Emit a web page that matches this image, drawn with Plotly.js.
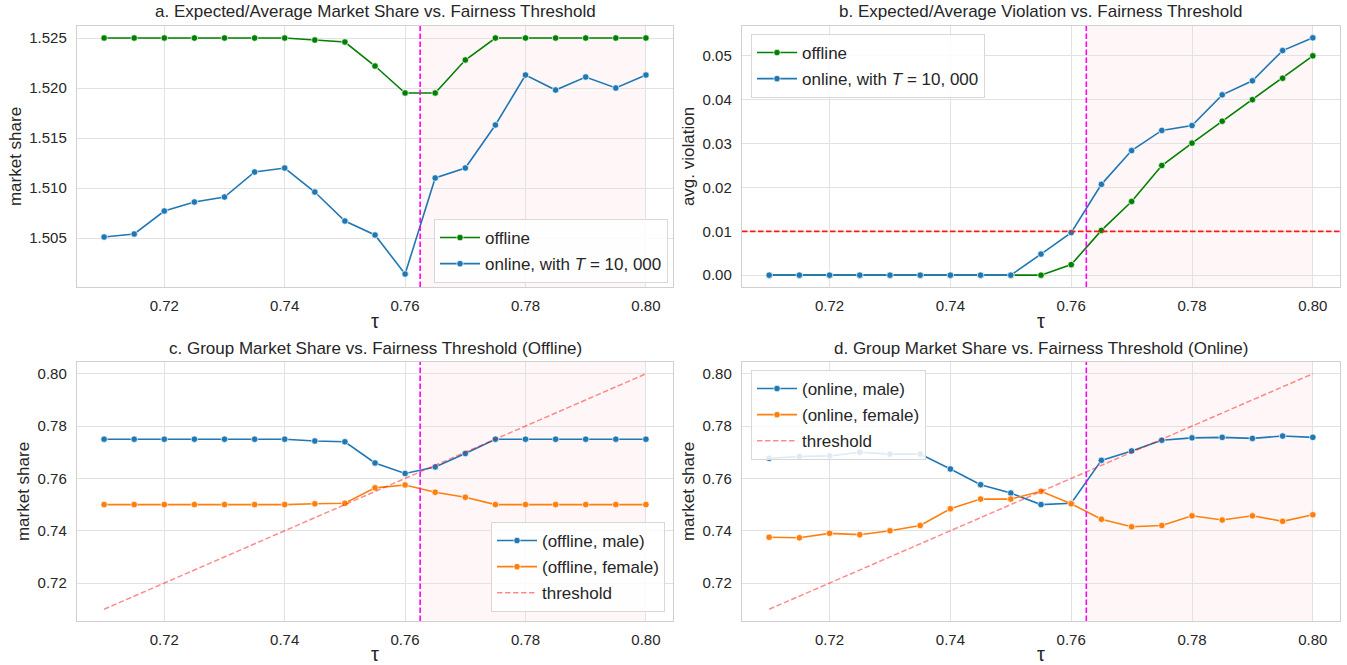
<!DOCTYPE html>
<html>
<head>
<meta charset="utf-8">
<script src="https://cdn.plot.ly/plotly-3.0.1.min.js"></script>
<style>html,body{margin:0;padding:0;background:#fff;}#chart{width:1347px;height:665px;}</style>
</head>
<body>
<div id="chart"></div>
<script>
// ---- data ----
const tau = [0.71,0.715,0.72,0.725,0.73,0.735,0.74,0.745,0.75,0.755,0.76,0.765,0.77,0.775,0.78,0.785,0.79,0.795,0.80];
const shareOffline = [1.525,1.525,1.525,1.525,1.525,1.525,1.525,1.5248,1.5246,1.5222,1.5195,1.5195,1.5228,1.525,1.525,1.525,1.525,1.525,1.525];
const shareOnline = [1.5051,1.5054,1.5077,1.5086,1.5091,1.5116,1.5120,1.5096,1.5067,1.5053,1.5014,1.5110,1.5120,1.5163,1.5213,1.5198,1.5211,1.5200,1.5213];
const violOffline = [0,0,0,0,0,0,0,0,0,0,0.0024,0.0102,0.0168,0.0250,0.0301,0.0351,0.0400,0.0449,0.0500];
const violOnline = [0,0,0,0,0,0,0,0,0,0.0048,0.0097,0.0207,0.0284,0.0330,0.0341,0.0411,0.0443,0.0512,0.0541];
const offMale = [0.775,0.775,0.775,0.775,0.775,0.775,0.775,0.7743,0.7740,0.7659,0.7619,0.7644,0.7695,0.775,0.775,0.775,0.775,0.775,0.775];
const offFemale = [0.75,0.75,0.75,0.75,0.75,0.75,0.75,0.7503,0.7505,0.7564,0.7575,0.7547,0.7528,0.75,0.75,0.75,0.75,0.75,0.75];
const onMale = [0.7677,0.7684,0.7686,0.7700,0.7693,0.7693,0.7636,0.7576,0.7544,0.7500,0.7505,0.7669,0.7705,0.7746,0.7755,0.7757,0.7753,0.7762,0.7757];
const onFemale = [0.7375,0.7373,0.7390,0.7385,0.7400,0.7420,0.7484,0.7521,0.7521,0.7551,0.7503,0.7444,0.7415,0.7420,0.7457,0.7441,0.7457,0.7436,0.7461];
const threshold = [0.71,0.715,0.72,0.725,0.73,0.735,0.74,0.745,0.75,0.755,0.76,0.765,0.77,0.775,0.78,0.785,0.79,0.795,0.80];
const xTicks = [0.72,0.74,0.76,0.78,0.80];
const cutoff = 0.7625;
const violLimit = 0.01;
const titles = ["a. Expected/Average Market Share vs. Fairness Threshold",
  "b. Expected/Average Violation vs. Fairness Threshold",
  "c. Group Market Share vs. Fairness Threshold (Offline)",
  "d. Group Market Share vs. Fairness Threshold (Online)"];

// ---- style ----
const FONT = "Liberation Sans, Arial, sans-serif";
const TXT = "#262626";
const BLUE = "#1f77b4", GREEN = "#008000", ORANGE = "#ff7f0e";
const THR = "rgba(255,0,0,0.45)";

let gid = 0;
function lm(name, x, y, color, xa, ya, legend) {
  gid++;
  return {x, y, name, type: "scatter", mode: "lines+markers", xaxis: xa, yaxis: ya, legend, legendgroup: "g" + gid,
    line: {color, width: 1.6},
    marker: {color, size: 6.5, line: {color: "#ffffff", width: 0.7}}};
}
function thr(xa, ya, legend) {
  gid++;
  return {x: tau, y: threshold, name: "threshold", type: "scatter", mode: "lines", xaxis: xa, yaxis: ya,
    legend, legendgroup: "g" + gid, line: {color: THR, width: 1.5, dash: "5.5px,2.5px"}};
}
const traces = [
  lm("offline", tau, shareOffline, GREEN, "x", "y", "legend"),
  lm("online, with <i>T</i> = 10, 000", tau, shareOnline, BLUE, "x", "y", "legend"),
  lm("offline", tau, violOffline, GREEN, "x2", "y2", "legend2"),
  lm("online, with <i>T</i> = 10, 000", tau, violOnline, BLUE, "x2", "y2", "legend2"),
  lm("(offline, male)", tau, offMale, BLUE, "x3", "y3", "legend3"),
  lm("(offline, female)", tau, offFemale, ORANGE, "x3", "y3", "legend3"),
  thr("x3", "y3", "legend3"),
  lm("(online, male)", tau, onMale, BLUE, "x4", "y4", "legend4"),
  lm("(online, female)", tau, onFemale, ORANGE, "x4", "y4", "legend4"),
  thr("x4", "y4", "legend4")
];

const W = 1347, H = 665;
const colDom = [[77/W, 673/W], [742/W, 1340/W]];
const rowDom = [[1-287/H, 1-26/H], [1-621/H, 1-362/H]];
const xRange = [0.7055, 0.8045];
const yRanges = [[1.5001, 1.5262], [-0.0027, 0.0568], [0.7055, 0.8045], [0.7055, 0.8045]];

function xax(anchor, dom) {
  return {domain: dom, anchor, range: xRange, tickvals: xTicks, tickformat: ".2f",
    showgrid: true, gridcolor: "#e2e2e2", gridwidth: 1, zeroline: false,
    showline: true, linecolor: "#d0d0d0", linewidth: 1.2, mirror: true,
    ticks: "outside", ticklen: 5, tickcolor: "rgba(0,0,0,0)",
    tickfont: {family: FONT, size: 15, color: TXT},
    title: {text: "τ", font: {family: FONT, size: 20, color: TXT}, standoff: 0}};
}
function yax(anchor, dom, range, dtick, fmt, label) {
  return {domain: dom, anchor, range, dtick, tick0: 0, tickformat: fmt,
    showgrid: true, gridcolor: "#e2e2e2", gridwidth: 1, zeroline: false,
    showline: true, linecolor: "#d0d0d0", linewidth: 1.2, mirror: true,
    ticks: "outside", ticklen: 6, tickcolor: "rgba(0,0,0,0)",
    tickfont: {family: FONT, size: 15, color: TXT},
    title: {text: label, font: {family: FONT, size: 17, color: TXT}, standoff: 3}};
}

const legBase = {bgcolor: "rgba(255,255,255,0.85)", bordercolor: "#d8d8d8", borderwidth: 1,
  font: {family: FONT, size: 17, color: TXT}, itemwidth: 40, tracegroupgap: 1};

const shapes = [];
const axPairs = [["x","y"],["x2","y2"],["x3","y3"],["x4","y4"]];
axPairs.forEach(([xa, ya], i) => {
  shapes.push({type: "rect", xref: xa, yref: ya, x0: cutoff, x1: 0.80, y0: yRanges[i][0], y1: yRanges[i][1],
    fillcolor: "rgba(255,0,0,0.03)", line: {width: 0}, layer: "below"});
  shapes.push({type: "line", xref: xa, yref: ya, x0: cutoff, x1: cutoff, y0: yRanges[i][0], y1: yRanges[i][1],
    line: {color: "#ff00ff", width: 1.6, dash: "5.5px,2.5px"}, layer: "above"});
});
shapes.push({type: "line", xref: "x2", yref: "y2", x0: xRange[0], x1: xRange[1], y0: violLimit, y1: violLimit,
  line: {color: "#ff1a1a", width: 1.8, dash: "5.5px,2.5px"}, layer: "above"});

const annotations = titles.map((t, i) => {
  const c = i % 2, r = Math.floor(i / 2);
  return {text: t, xref: "paper", yref: "paper", x: (colDom[c][0] + colDom[c][1]) / 2,
    y: r === 0 ? 1 - 12/H : 1 - 348/H, xanchor: "center", yanchor: "middle", showarrow: false,
    font: {family: FONT, size: 17, color: TXT}};
});

const layout = {
  width: W, height: H, margin: {l: 0, r: 0, t: 0, b: 0},
  paper_bgcolor: "#ffffff", plot_bgcolor: "#ffffff",
  font: {family: FONT, color: TXT},
  xaxis: xax("y", colDom[0]), yaxis: yax("x", rowDom[0], yRanges[0], 0.005, ".3f", "market share"),
  xaxis2: xax("y2", colDom[1]), yaxis2: yax("x2", rowDom[0], yRanges[1], 0.01, ".2f", "avg. violation"),
  xaxis3: xax("y3", colDom[0]), yaxis3: yax("x3", rowDom[1], yRanges[2], 0.02, ".2f", "market share"),
  xaxis4: xax("y4", colDom[1]), yaxis4: yax("x4", rowDom[1], yRanges[3], 0.02, ".2f", "market share"),
  legend: Object.assign({}, legBase, {x: 668/W, y: 1-283/H, xanchor: "right", yanchor: "bottom"}),
  legend2: Object.assign({}, legBase, {x: 751/W, y: 1-34/H, xanchor: "left", yanchor: "top"}),
  legend3: Object.assign({}, legBase, {x: 665/W, y: 1-612/H, xanchor: "right", yanchor: "bottom"}),
  legend4: Object.assign({}, legBase, {x: 751/W, y: 1-370/H, xanchor: "left", yanchor: "top"}),
  shapes, annotations, showlegend: true
};

Plotly.newPlot("chart", traces, layout, {displayModeBar: false, staticPlot: true});
</script>
</body>
</html>
